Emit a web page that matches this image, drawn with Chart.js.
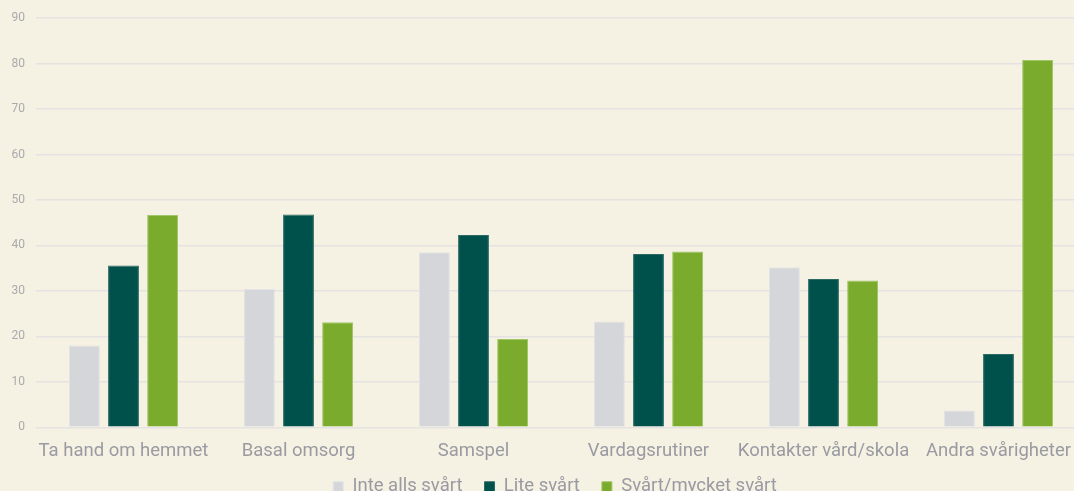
<!doctype html>
<html lang="sv">
<head>
<meta charset="utf-8" />
<title>Svårigheter</title>
<script src="https://cdn.jsdelivr.net/npm/chart.js"></script>
<style>
  html, body { margin: 0; padding: 0; background: #f5f1e3; overflow: hidden; }
  #wrap { position: absolute; left: 0; top: 0; width: 1110px; height: 518px; }
</style>
</head>
<body>
<div id="wrap"><canvas id="chart" width="1110" height="518"></canvas></div>
<script>
const categories = ['Ta hand om hemmet', 'Basal omsorg', 'Samspel', 'Vardagsrutiner', 'Kontakter vård/skola', 'Andra svårigheter'];
const seriesNames = ['Inte alls svårt', 'Lite svårt', 'Svårt/mycket svårt'];
const inteAlls = [18.0, 30.4, 38.5, 23.3, 35.2, 3.7];
const lite = [35.6, 46.8, 42.3, 38.1, 32.6, 16.1];
const svart = [46.7, 23.1, 19.4, 38.7, 32.3, 80.8];
const yTicks = [0, 10, 20, 30, 40, 50, 60, 70, 80, 90];
const colors = ['#d5d6da', '#00504b', '#7bab2d'];
const edges = ['#e4e4e6', '#2b6a64', '#a2c66a'];

const datasets = [inteAlls, lite, svart].map((data, i) => ({
  label: seriesNames[i],
  data,
  backgroundColor: colors[i],
  borderColor: edges[i],
  borderWidth: 1,
  categoryPercentage: 0.67,
  barPercentage: 0.79,
}));

// the legend sits a bit right of the plot centre and closer to the labels
const nudgeLegend = {
  id: 'nudgeLegend',
  afterLayout(chart) {
    const legend = chart.legend;
    legend.left += 12; legend.right += 12;
    legend.top -= 12; legend.bottom -= 12;
  },
};

new Chart(document.getElementById('chart'), {
  type: 'bar',
  data: { labels: categories, datasets },
  plugins: [nudgeLegend],
  options: {
    responsive: false,
    animation: false,
    layout: { padding: { top: 12, right: 24, left: 0, bottom: 0 } },
    plugins: {
      tooltip: { enabled: false },
      legend: {
        position: 'bottom',
        labels: {
          color: '#9a9aa2',
          font: { family: 'Roboto', size: 18.5 },
          boxWidth: 10,
          boxHeight: 10,
          padding: 22,
        },
      },
    },
    scales: {
      x: {
        grid: { display: false },
        border: { display: false },
        ticks: { color: '#9a9aa2', font: { family: 'Roboto', size: 18.5 }, padding: 5, maxRotation: 0, autoSkip: false },
      },
      y: {
        min: 0,
        max: 90,
        afterBuildTicks: (scale) => { scale.ticks = yTicks.map((value) => ({ value })); },
        afterFit: (scale) => { scale.width = 36; },
        grid: { color: '#e4e3e1', lineWidth: 1.5, drawTicks: false },
        border: { display: false },
        ticks: { color: '#aaaaad', font: { family: 'Roboto', size: 12 }, padding: 11 },
      },
    },
  },
});
</script>
</body>
</html>
